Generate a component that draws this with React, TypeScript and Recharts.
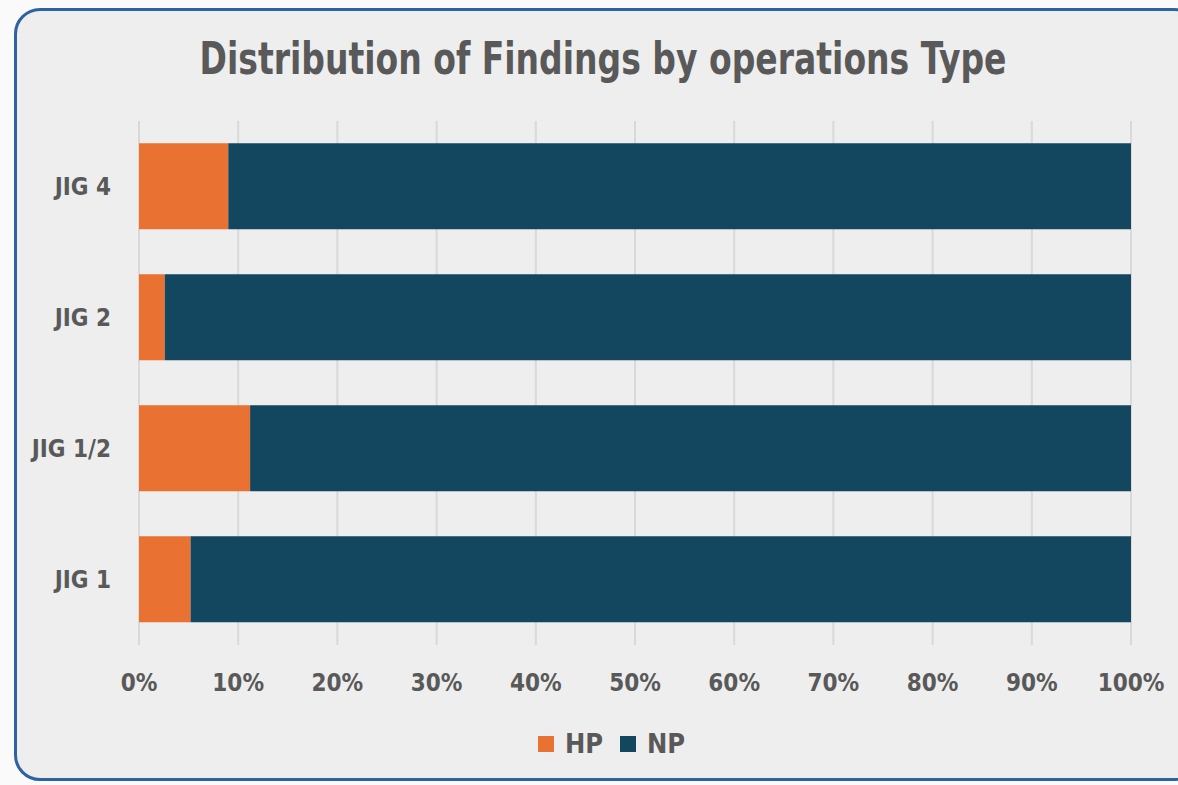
import { Bar, BarChart, CartesianGrid, XAxis, YAxis } from "recharts";

// top-to-bottom order, as shown
const categories = ["JIG 4", "JIG 2", "JIG 1/2", "JIG 1"];
const hpShare = [9.0, 2.6, 11.2, 5.2];
const npShare = [91.0, 97.4, 88.8, 94.8];
const xTicks = [0, 10, 20, 30, 40, 50, 60, 70, 80, 90, 100];

const HP_COLOR = "#E97132";
const NP_COLOR = "#12475F";
const TEXT = "#595959";
const FONT = "'Liberation Sans Narrow', 'DejaVu Sans Condensed', 'Roboto', sans-serif";

const data = categories.map((name, i) => ({ name, HP: hpShare[i], NP: npShare[i] }));

const legendItems = [
  { name: "HP", color: HP_COLOR, left: 538 },
  { name: "NP", color: NP_COLOR, left: 620 },
];

export default function App() {
  return (
    <div style={{ position: "absolute", left: 0, top: 0, width: 1178, height: 785, background: "#fafafa", overflow: "hidden" }}>
      <div
        style={{
          position: "absolute",
          left: 14,
          top: 8,
          width: 1180,
          height: 767,
          border: "3px solid #2E62A3",
          borderRadius: 26,
          background: "#EEEEEE",
        }}
      />
      <svg width={1178} height={110} style={{ position: "absolute", left: 0, top: 0 }}>
        <text
          x={603}
          y={74}
          textAnchor="middle"
          fontFamily={FONT}
          fontWeight="bold"
          fontSize={44}
          fill={TEXT}
          textLength={807}
          lengthAdjust="spacingAndGlyphs"
        >
          Distribution of Findings by operations Type
        </text>
      </svg>
      <div style={{ position: "absolute", left: 0, top: 0 }}>
        <BarChart
          width={1178}
          height={785}
          data={data}
          layout="vertical"
          margin={{ top: 121, right: 47, bottom: 100, left: 29 }}
          barCategoryGap="17%"
        >
          <CartesianGrid horizontal={false} stroke="#D9D9D9" strokeWidth={2} />
          <XAxis
            type="number"
            domain={[0, 100]}
            ticks={xTicks}
            tickFormatter={(v) => `${v}%`}
            axisLine={false}
            tickLine={false}
            tickSize={0}
            tickMargin={29}
            height={40}
            tick={{ fill: TEXT, fontSize: 24, fontWeight: "bold", fontFamily: FONT }}
          />
          <YAxis
            type="category"
            dataKey="name"
            width={110}
            axisLine={false}
            tickLine={false}
            tickSize={0}
            tickMargin={28}
            tick={{ fill: TEXT, fontSize: 24, fontWeight: "bold", fontFamily: FONT }}
          />
          <Bar dataKey="HP" stackId="a" fill={HP_COLOR} isAnimationActive={false} />
          <Bar dataKey="NP" stackId="a" fill={NP_COLOR} isAnimationActive={false} />
        </BarChart>
      </div>
      {legendItems.map((s) => (
        <div
          key={s.name}
          style={{
            position: "absolute",
            top: 728,
            left: s.left,
            display: "flex",
            alignItems: "center",
            gap: 11,
            fontFamily: FONT,
            fontWeight: "bold",
            fontSize: 27,
            color: TEXT,
          }}
        >
          <span style={{ width: 16, height: 16, background: s.color, display: "inline-block" }} />
          {s.name}
        </div>
      ))}
    </div>
  );
}
